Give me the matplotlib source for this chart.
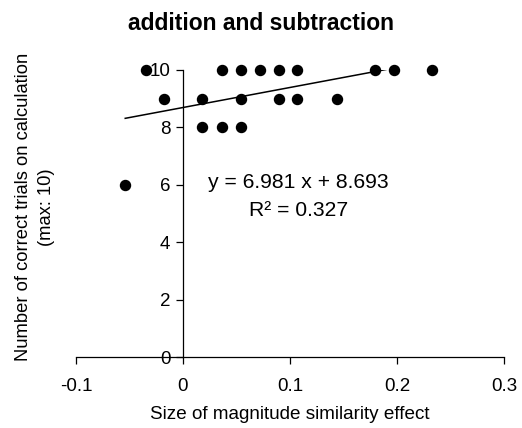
import numpy as np
import matplotlib
matplotlib.use("Agg")
import matplotlib.pyplot as plt

plt.rcParams['font.family'] = ['Liberation Sans', 'DejaVu Sans']

# data
effect = [-0.054, -0.035, -0.0175, 0.018, 0.018, 0.036, 0.036, 0.054, 0.054, 0.054,
          0.072, 0.090, 0.090, 0.107, 0.107, 0.144, 0.179, 0.197, 0.233]
correct = [6, 10, 9, 9, 8, 8, 10, 10, 9, 8,
           10, 10, 9, 10, 9, 9, 10, 10, 10]
slope = 6.981
intercept = 8.693
line_x = [-0.054, 0.19]
xticks = [-0.1, 0, 0.1, 0.2, 0.3]
yticks = [0, 2, 4, 6, 8, 10]

fig = plt.figure(figsize=(5.22, 4.28), dpi=100)
ax = fig.add_axes([76/522, 1-357/428, 428/522, 287/428])

ax.scatter(effect, correct, s=52, color='black', zorder=3, clip_on=False)
lx = np.array(line_x)
ax.plot(lx, slope*lx + intercept, color='black', lw=1.1)

ax.set_xlim(-0.1, 0.3)
ax.set_ylim(0, 10)
ax.set_xticks(xticks)
ax.set_xticklabels(['-0.1', '0', '0.1', '0.2', '0.3'])
ax.set_yticks(yticks)

ax.spines['left'].set_position(('data', 0))
ax.spines['top'].set_visible(False)
ax.spines['right'].set_visible(False)
for s in ['left', 'bottom']:
    ax.spines[s].set_linewidth(0.9)
ax.tick_params(direction='out', length=5, width=0.9, labelsize=13.5, pad=4)
ax.tick_params(axis='x', pad=10)

ax.set_xlabel('Size of magnitude similarity effect', fontsize=13.6, labelpad=8)
fig.text(35/522, 1-207/428, 'Number of correct trials on calculation\n(max: 10)',
         rotation=90, ha='center', va='center', fontsize=13.2, linespacing=1.4)
fig.text(0.5, 1-24/428, 'addition and subtraction', ha='center', va='center',
         fontsize=16.5, fontweight='bold')

ax.text(0.108, 6.09, f'y = {slope} x + {intercept}', ha='center', va='center', fontsize=15.2)
ax.text(0.108, 5.12, 'R² = 0.327', ha='center', va='center', fontsize=15.2)

fig.savefig('out.png', dpi=100)
